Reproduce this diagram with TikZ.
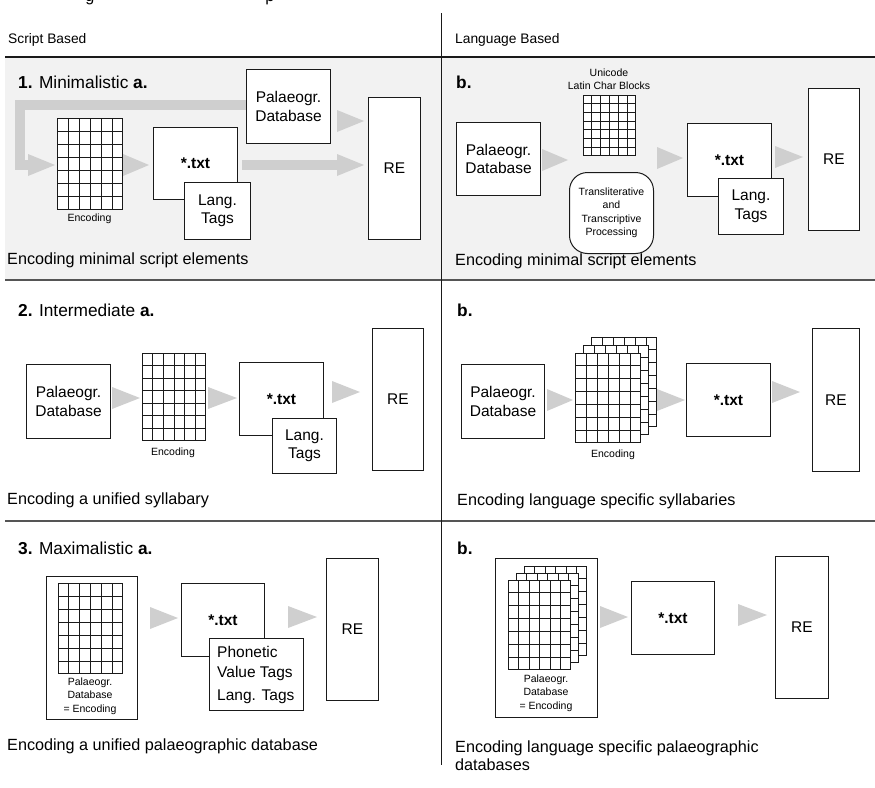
\documentclass[tikz,border=0pt]{standalone}
\usepackage{fontspec}
\setmainfont{Liberation Sans}
\usetikzlibrary{arrows.meta,calc}
\definecolor{panelgray}{HTML}{F2F2F2}
\definecolor{arrowgray}{HTML}{CFCFCF}
\definecolor{rulegray}{HTML}{555555}
\definecolor{ink}{HTML}{1A1A1A}
\newcommand{\titlefont}{\fontsize{17.3}{19}\selectfont}
\newcommand{\boxfont}{\fontsize{15.5}{18.5}\selectfont}
\newcommand{\capfont}{\fontsize{16.2}{18}\selectfont}
\newcommand{\headfont}{\fontsize{13.8}{16}\selectfont}
\newcommand{\smallfont}{\fontsize{10.5}{13.5}\selectfont}
\pgfdeclarelayer{bg}
\pgfsetlayers{bg,main}
\newcommand{\encgrid}[5]{%
  \node[gridbox, minimum width=#4pt, minimum height=#5pt, anchor=north west] (#1) at (#2,#3) {};
  \foreach \k in {1,...,5}{\draw[gridline] ($(#1.north west)!\k/6!(#1.north east)$) -- ($(#1.south west)!\k/6!(#1.south east)$);}
  \foreach \k in {1,...,6}{\draw[gridline] ($(#1.north west)!\k/7!(#1.south west)$) -- ($(#1.north east)!\k/7!(#1.south east)$);}
}
\begin{document}
\begin{tikzpicture}[x=1pt,y=-1pt,
  box/.style={draw=ink, line width=1pt, fill=white, inner sep=0pt, align=center, font=\boxfont, anchor=north west},
  gridbox/.style={draw=ink, line width=0.9pt, fill=white, inner sep=0pt},
  gridline/.style={draw=ink, line width=0.75pt},
  flow/.style={draw=arrowgray, line width=0.3pt, -{Triangle[length=#1, width=22pt, line width=0pt]}},
  flow/.default=27pt,
  bigflow/.style={draw=arrowgray, line width=10pt, line join=miter, -{Triangle[length=27pt, width=22pt, line width=0pt]}},
  lab/.style={inner sep=0pt, anchor=west},
  smalltxt/.style={inner sep=0pt, align=center, font=\smallfont},
  captext/.style={lab, font=\capfont},
  ttl/.style={lab, font=\titlefont}]
\useasboundingbox (0,0) rectangle (875,787);

% clipped fragments of a line above the figure
\node[inner sep=0pt, anchor=base, font=\capfont] (fragg) at (90,1.5) {g};
\node[inner sep=0pt, anchor=base, font=\capfont] (fragp) at (270,1.5) {p};

% header and rules
\node[lab, font=\headfont] (hs) at (8,40) {Script Based};
\node[lab, font=\headfont] (hl) at (455,40) {Language Based};
\coordinate (vtop) at (441,13);
\coordinate (vbot) at (441,765);

% ---------------- Row 1 a
\node[ttl] (t1a) at (18,82) {\textbf{1.} Minimalistic \textbf{a.}};
\node[box, minimum width=84pt, minimum height=74pt] (P1) at (246,69) {Palaeogr.\\Database};
\encgrid{G1}{57}{118}{65}{91}
\node[smalltxt] (e1) at (89.5,219) {Encoding};
\node[box, minimum width=84pt, minimum height=72pt, font=\boxfont\bfseries] (T1) at (153,127) {*.txt};
\node[box, minimum width=66pt, minimum height=57pt] (L1) at (184,182) {Lang.\\Tags};
\node[box, minimum width=52pt, minimum height=142pt] (R1) at (368,97) {RE};
\node[captext] (c1a) at (7,260) {Encoding minimal script elements};

% ---------------- Row 1 b
\node[ttl] (t1b) at (456,82) {\textbf{b.}};
\node[box, minimum width=84pt, minimum height=73pt] (P1b) at (456,122) {Palaeogr.\\Database};
\encgrid{G1b}{583}{95}{52}{60}
\node[smalltxt] (u1b) at (609,79) {Unicode\\Latin Char Blocks};
\node[box, rounded corners=18pt, minimum width=84pt, minimum height=81pt, font=\smallfont] (RB) at (569,172) {Transliterative\\and\\Transcriptive\\Processing};
\node[box, minimum width=84pt, minimum height=73pt, font=\boxfont\bfseries] (T1b) at (687,123) {*.txt};
\node[box, minimum width=65pt, minimum height=56pt] (L1b) at (718,178) {Lang.\\Tags};
\node[box, minimum width=51pt, minimum height=142pt] (R1b) at (808,88) {RE};
\node[captext] (c1b) at (455,261) {Encoding minimal script elements};

% ---------------- Row 2 a
\node[ttl] (t2a) at (18,310) {\textbf{2.} Intermediate \textbf{a.}};
\node[box, minimum width=84pt, minimum height=74pt] (P2) at (26,364) {Palaeogr.\\Database};
\encgrid{G2}{142}{353}{63}{87}
\node[smalltxt] (e2) at (173,453) {Encoding};
\node[box, minimum width=84pt, minimum height=73pt, font=\boxfont\bfseries] (T2) at (239,362) {*.txt};
\node[box, minimum width=64pt, minimum height=55pt] (L2) at (272,418) {Lang.\\Tags};
\node[box, minimum width=51pt, minimum height=142pt] (R2) at (372,328) {RE};
\node[captext] (c2a) at (7,500) {Encoding a unified syllabary};

% ---------------- Row 2 b
\node[ttl] (t2b) at (457,310) {\textbf{b.}};
\node[box, minimum width=83pt, minimum height=74pt] (P2b) at (461,364) {Palaeogr.\\Database};
\encgrid{G2c}{591}{337}{65}{89}
\encgrid{G2m}{583}{345}{65}{89}
\encgrid{G2b}{575}{353}{65}{89}
\node[smalltxt] (e2b) at (613,455) {Encoding};
\node[box, minimum width=84pt, minimum height=73pt, font=\boxfont\bfseries] (T2b) at (686,363) {*.txt};
\node[box, minimum width=47pt, minimum height=143pt] (R2b) at (812,328) {RE};
\node[captext] (c2b) at (457,501) {Encoding language specific syllabaries};

% ---------------- Row 3 a
\node[ttl] (t3a) at (18,548) {\textbf{3.} Maximalistic \textbf{a.}};
\node[box, minimum width=91pt, minimum height=143pt] (O3) at (46,576) {};
\encgrid{G3}{58}{583}{64}{90}
\node[smalltxt] (d3) at (90,696) {Palaeogr.\\Database\\= Encoding};
\node[box, minimum width=83pt, minimum height=73pt, font=\boxfont\bfseries] (T3) at (181,583) {*.txt};
\node[box, minimum width=94pt, minimum height=72pt] (Ph3) at (209,638) {};
\node[lab, align=left, font=\fontsize{15.5}{20}\selectfont] (Ph3t) at ([xshift=8pt]Ph3.west) {Phonetic\\Value Tags\\[3pt]Lang. Tags};
\node[box, minimum width=52pt, minimum height=142pt] (R3) at (326,558) {RE};
\node[captext] (c3a) at (7,746) {Encoding a unified palaeographic database};

% ---------------- Row 3 b
\node[ttl] (t3b) at (457,548) {\textbf{b.}};
\node[box, minimum width=102pt, minimum height=159pt] (O3b) at (495,558) {};
\encgrid{G3c}{524}{566}{62}{89}
\encgrid{G3m}{516}{573}{62}{89}
\encgrid{G3b}{508}{580}{62}{89}
\node[smalltxt] (d3b) at (546,693) {Palaeogr.\\Database\\= Encoding};
\node[box, minimum width=83pt, minimum height=73pt, font=\boxfont\bfseries] (T3b) at (631,581) {*.txt};
\node[box, minimum width=53pt, minimum height=142pt] (R3b) at (775,556) {RE};
\node[lab, align=left, font=\capfont] (c3b) at (455,756) {Encoding language specific palaeographic\\databases};

% ---------------- background layer: panel, rules, arrows
\begin{pgfonlayer}{bg}
\fill[panelgray] (5,57) rectangle (875,280);
\draw[ink, line width=1.4pt] (5,57) -- (875,57);
\draw[rulegray, line width=2pt] (5,280) -- (875,280);
\draw[rulegray, line width=2pt] (5,521) -- (875,521);
\draw[ink, line width=1pt] (vtop) -- (vbot);
% row 1 a
\draw[bigflow, shorten >=2pt] (P1.west |- 0,105) -- (20,105) -- (20,165) -- (G1.west |- 0,165);
\draw[bigflow, shorten <=4pt, shorten >=4pt] (T1.east |- 0,165) -- (R1.west |- 0,165);
\draw[flow=26pt, shorten <=1pt, shorten >=4pt] (G1.east |- 0,165) -- (T1.west |- 0,165);
\draw[flow=27pt, shorten <=7pt, shorten >=4pt] (P1.east |- 0,121) -- (R1.west |- 0,121);
% row 1 b
\draw[flow=26pt, shorten <=2pt, shorten >=1pt] (P1b.east |- 0,160) -- (RB.west |- 0,160);
\draw[flow=26pt, shorten <=4pt, shorten >=4pt] (RB.east |- 0,158) -- (T1b.west |- 0,158);
\draw[flow=28pt, shorten <=4pt, shorten >=5pt] (T1b.east |- 0,157) -- (R1b.west |- 0,157);
% row 2 a
\draw[flow=28pt, shorten <=2pt, shorten >=2pt] (P2.east |- 0,398) -- (G2.west |- 0,398);
\draw[flow=29pt, shorten <=3pt, shorten >=2pt] (G2.east |- 0,398) -- (T2.west |- 0,398);
\draw[flow=28pt, shorten <=9pt, shorten >=12pt] (T2.east |- 0,392) -- (R2.west |- 0,392);
% row 2 b
\draw[flow=26pt, shorten <=3pt, shorten >=2pt] (P2b.east |- 0,400) -- (G2b.west |- 0,400);
\draw[flow=28pt, shorten <=1pt, shorten >=1pt] (G2c.east |- 0,400) -- (T2b.west |- 0,400);
\draw[flow=28pt, shorten <=2pt, shorten >=12pt] (T2b.east |- 0,392) -- (R2b.west |- 0,392);
% row 3 a
\draw[flow=28pt, shorten <=13pt, shorten >=3pt] (O3.east |- 0,618) -- (T3.west |- 0,618);
\draw[flow=29pt, shorten <=24pt, shorten >=9pt] (T3.east |- 0,617) -- (R3.west |- 0,617);
% row 3 b
\draw[flow=28pt, shorten <=3pt, shorten >=3pt] (O3b.east |- 0,617) -- (T3b.west |- 0,617);
\draw[flow=29pt, shorten <=24pt, shorten >=8pt] (T3b.east |- 0,615) -- (R3b.west |- 0,615);
\end{pgfonlayer}
\end{tikzpicture}
\end{document}
